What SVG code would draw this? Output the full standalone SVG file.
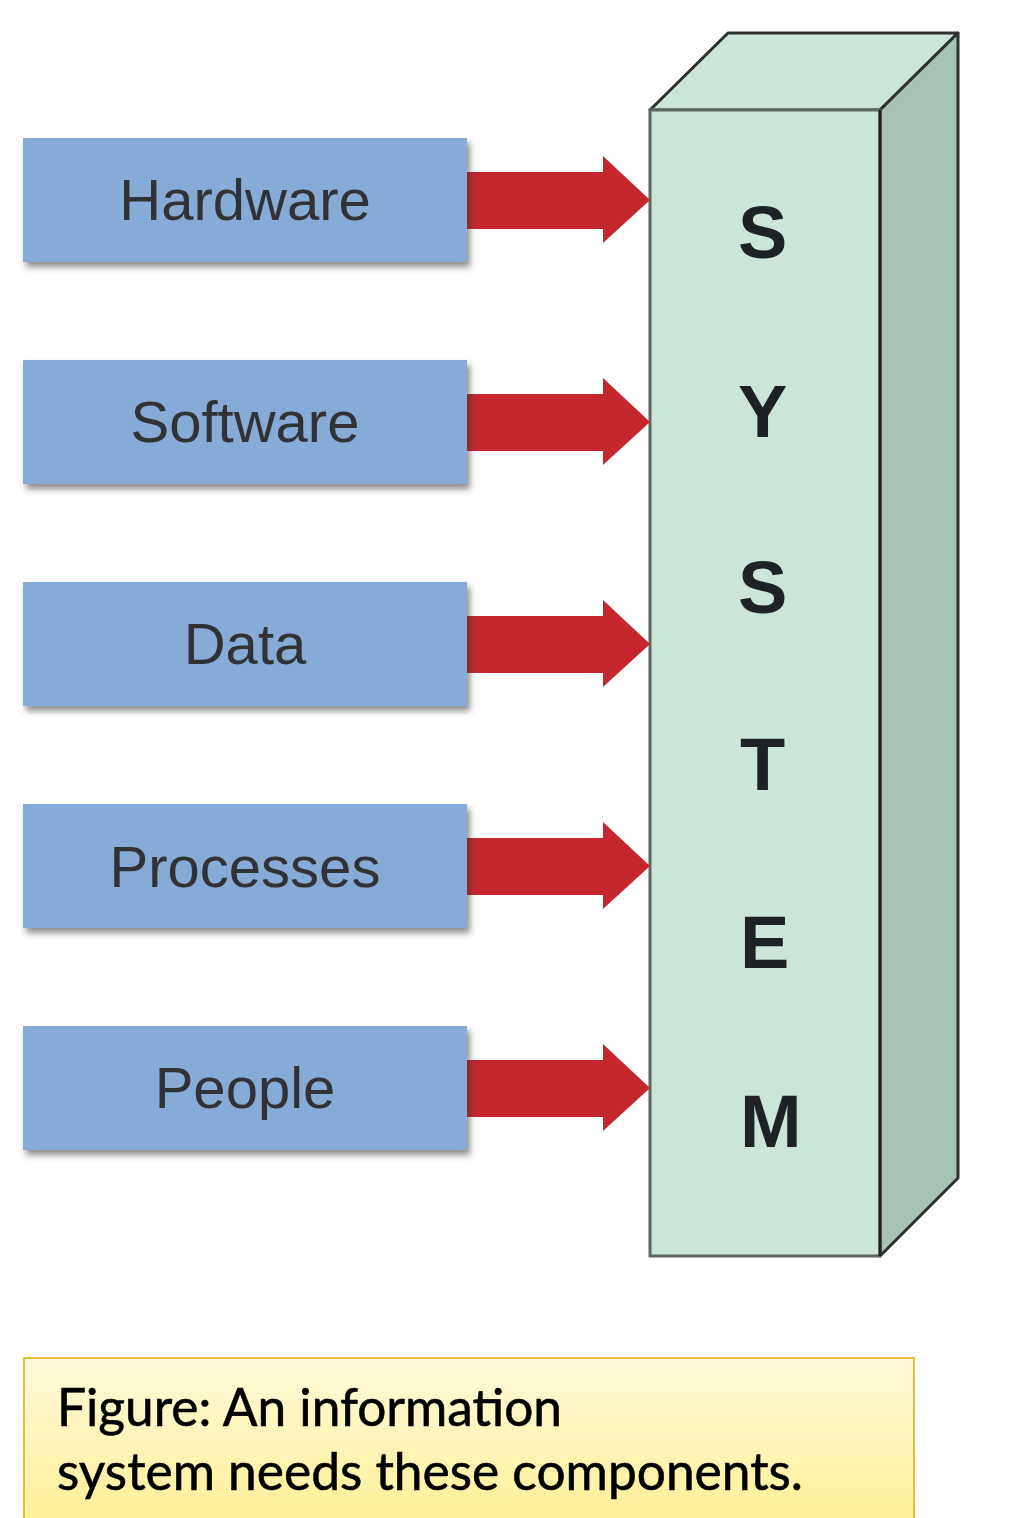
<svg xmlns="http://www.w3.org/2000/svg" width="1020" height="1518" viewBox="0 0 1020 1518">
<style>
.box{fill:#87abd7;filter:url(#sh)}
.lbl{font-family:"Liberation Sans",Arial,sans-serif;font-size:58px;fill:#303236;text-anchor:middle}
.arr{fill:#c4282e}
.let{font-family:"Liberation Sans",Arial,sans-serif;font-size:74px;font-weight:bold;fill:#1e2226}
.cap{font-family:Lato,"Open Sans",sans-serif;font-size:53px;fill:#000;stroke:#000;stroke-width:0.6}
</style>
<defs>
<filter id="sh" x="-10%" y="-20%" width="130%" height="150%">
<feDropShadow dx="3" dy="5" stdDeviation="3" flood-color="#333" flood-opacity="0.55"/>
</filter>
<linearGradient id="capg" x1="0" y1="0" x2="0" y2="1">
<stop offset="0" stop-color="#fff9db"/>
<stop offset="1" stop-color="#ffef93"/>
</linearGradient>
</defs>
<rect width="1020" height="1518" fill="#fff"/>
<g id="system">
<polygon points="728,33 958,33 880,110 650,110" fill="#cce5d9" stroke="#2e302f" stroke-width="3" stroke-linejoin="round"/>
<polygon points="880,110 958,33 958,1178 880,1256" fill="#a6c3b4" stroke="#2e302f" stroke-width="3" stroke-linejoin="round"/>
<rect x="650" y="110" width="230" height="1146" fill="#cce5d9" stroke="#5d6662" stroke-width="3"/>
<line x1="880" y1="110" x2="880" y2="1256" stroke="#222" stroke-width="3"/>
<text class="let" x="738" y="258">S</text>
<text class="let" x="738" y="437">Y</text>
<text class="let" x="738" y="613">S</text>
<text class="let" x="740" y="790">T</text>
<text class="let" x="740" y="968">E</text>
<text class="let" x="740" y="1147">M</text>
</g>
<g id="connectors">
<polygon class="arr" points="467,172 603,172 603,156 650,200 603,243 603,229 467,229"/>
<polygon class="arr" points="467,394 603,394 603,378 650,422 603,465 603,451 467,451"/>
<polygon class="arr" points="467,616 603,616 603,600 650,644 603,687 603,673 467,673"/>
<polygon class="arr" points="467,838 603,838 603,822 650,866 603,909 603,895 467,895"/>
<polygon class="arr" points="467,1060 603,1060 603,1044 650,1088 603,1131 603,1117 467,1117"/>
</g>
<g id="hardware"><rect class="box" x="23" y="138" width="444" height="124"/><text class="lbl" x="245" y="220">Hardware</text></g>
<g id="software"><rect class="box" x="23" y="360" width="444" height="124"/><text class="lbl" x="245" y="442">Software</text></g>
<g id="data"><rect class="box" x="23" y="582" width="444" height="124"/><text class="lbl" x="245" y="664">Data</text></g>
<g id="processes"><rect class="box" x="23" y="804" width="444" height="124"/><text class="lbl" x="245" y="887">Processes</text></g>
<g id="people"><rect class="box" x="23" y="1026" width="444" height="124"/><text class="lbl" x="245" y="1108">People</text></g>
<g id="caption">
<rect x="24" y="1358" width="890" height="175" fill="url(#capg)" stroke="#e6be3c" stroke-width="2"/>
<text class="cap" x="57" y="1426" textLength="505" lengthAdjust="spacingAndGlyphs">Figure: An information</text>
<text class="cap" x="57" y="1490" textLength="746" lengthAdjust="spacingAndGlyphs">system needs these components.</text>
</g>
</svg>
